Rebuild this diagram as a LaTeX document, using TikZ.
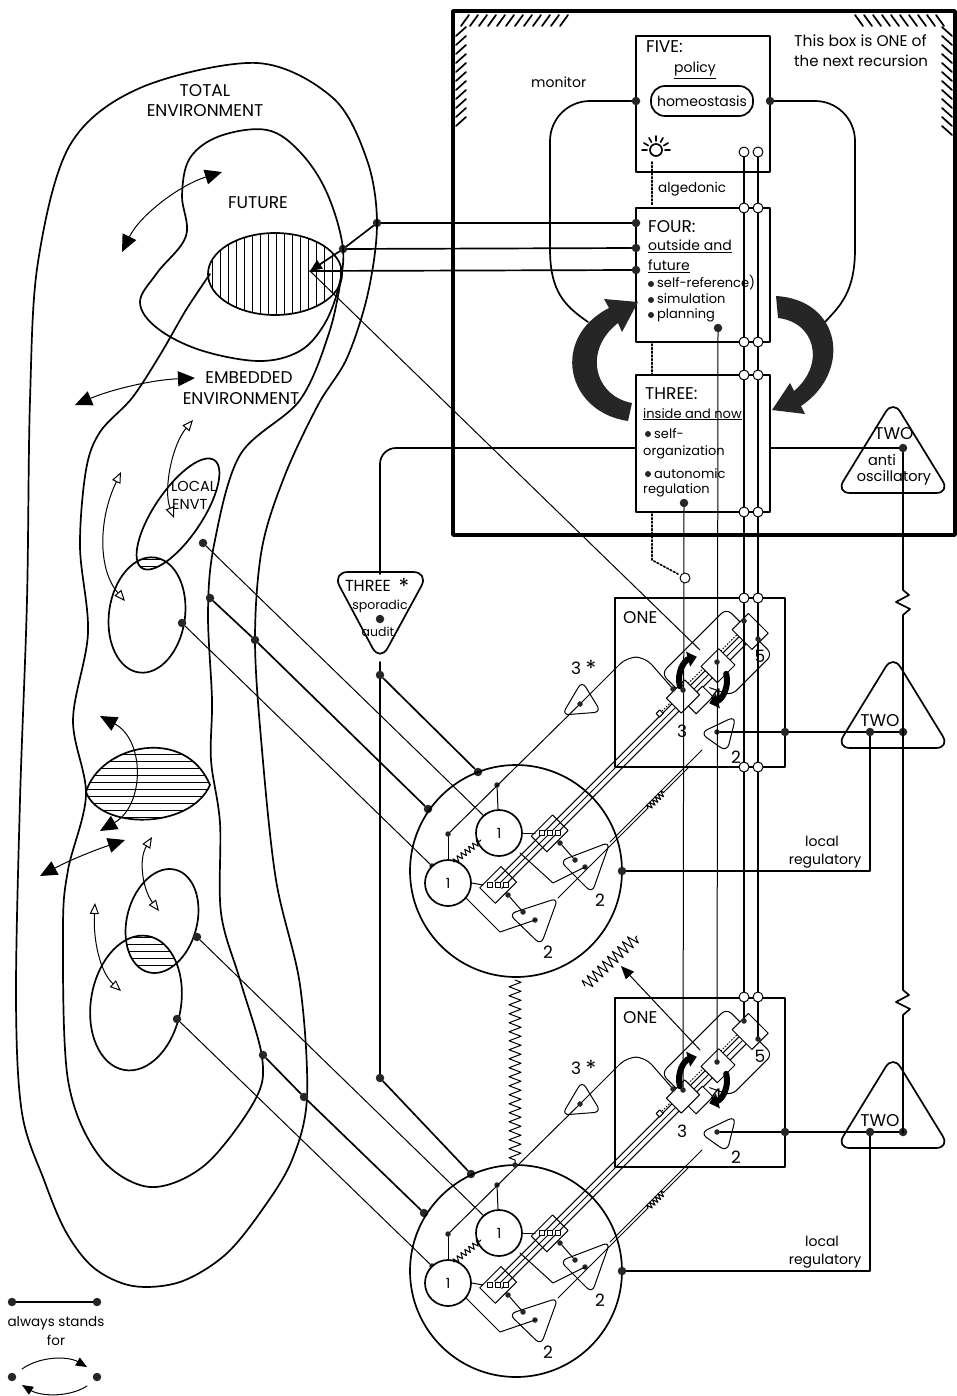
\documentclass[tikz,border=0pt]{standalone}
\usepackage{fontspec}
\setmainfont{Poppins}
\usetikzlibrary{arrows.meta,calc,decorations.pathmorphing}
\newcommand{\myfs}[1]{\fontsize{#1}{#1}\selectfont}
\begin{document}
\begin{tikzpicture}[x=1pt,y=-1pt,line join=round,line cap=round,
  ln/.style={line width=1.7pt},
  tn/.style={line width=1pt},
  ch/.style={line width=1.2pt},
  bx/.style={line width=2.6pt},
  dt/.style={circle,fill=black!85,inner sep=0pt,minimum size=8.5pt},
  sd/.style={circle,fill=black!85,inner sep=0pt,minimum size=5.5pt},
  bul/.style={circle,fill=black!85,inner sep=0pt,minimum size=6pt},
  od/.style={circle,draw,line width=1pt,fill=white,inner sep=0pt,minimum size=10pt},
  lb/.style={inner sep=0pt,font=\myfs{14}},
  cp/.style={inner sep=0pt,font=\myfs{17}},
  sm/.style={inner sep=0pt,font=\myfs{13}},
  btip/.style={{Triangle[length=17pt,width=15pt]}-{Triangle[length=17pt,width=15pt]}},
  otip/.style={{Triangle[open,length=11pt,width=9pt]}-{Triangle[open,length=11pt,width=9pt]}},
  crv/.style={line width=6pt,-{Triangle[length=9pt,width=15pt]}},
]
\useasboundingbox (0,0) rectangle (957,1396);
\fill[white] (0,0) rectangle (957,1396);

% ===== Metasystem box =====
\draw[line width=3.5pt] (453,11) rectangle (955,535);
\foreach \x in {461,470,...,561} \draw[ln] (\x,26) -- (\x+8,15);
\foreach \y in {36,45,...,126} \draw[ln] (456,\y) -- (466,\y-9);
\foreach \x in {855,864,...,936} \draw[ln] (\x,15) -- (\x+8,26);
\foreach \y in {27,36,...,127} \draw[ln] (942,\y) -- (952,\y+9);
\node[inner sep=0pt,font=\myfs{15.5},anchor=base west] (rec1) at (794,47) {This box is ONE of};
\node[inner sep=0pt,font=\myfs{15},anchor=base west] (rec2) at (794,67) {the next recursion};
\node[lb,anchor=base west] (mon) at (531,88) {monitor};

% FIVE
\node[draw,bx,minimum width=134pt,minimum height=136pt,inner sep=0pt] (five) at (703,104) {};
\node[cp,anchor=base west] at (646,53) {FIVE:};
\node[lb,anchor=base] at (695,73) {\underline{policy}};
\node[draw,ln,fill=white,rounded corners=14pt,minimum width=102pt,minimum height=30pt,inner sep=0pt,lb] (homeo) at (702,101) {homeostasis};
\node[dt] (h1) at (636,101) {};
\node[dt] (h2) at (770,101) {};
\draw[ln,rounded corners=40] (h1) -- (550,101) -- (550,250);
\draw[ln] (550,249) .. controls (550,292) and (565,306) .. (588,322);
\draw[ln,rounded corners=40] (h2) -- (855,101) -- (855,250);
\draw[ln] (855,249) .. controls (855,292) and (840,306) .. (825,322);
% lamp
\draw[ln] (656,150) circle[radius=6];
\foreach \a in {180,210,240,270,300,330,360} \draw[ln] ($(656,150)+(\a:9)$) -- ($(656,150)+(\a:14)$);
\draw[ln,dotted] (652,162) -- (652,206);
\node[inner sep=0pt,font=\myfs{13.5},anchor=base west] (alg) at (658,193) {algedonic};

% FOUR
\node[draw,bx,minimum width=134pt,minimum height=134pt,inner sep=0pt] (four) at (703,275) {};
\node[cp,anchor=base west] at (648,233) {FOUR:};
\node[lb,anchor=base west] at (648,251) {\underline{outside and}};
\node[lb,anchor=base west] at (648,271) {\underline{future}};
\node[bul] at (651,284) {};
\node[bul] at (651,300) {};
\node[bul] at (651,315) {};
\node[sm,anchor=base west] at (657,288) {self-reference)};
\node[sm,anchor=base west] at (657,304) {simulation};
\node[sm,anchor=base west] at (657,319) {planning};
\draw[ln,dotted] (652,344) -- (652,374);

% THREE
\node[draw,bx,minimum width=134pt,minimum height=137pt,inner sep=0pt] (three) at (703,443.5) {};
\node[cp,anchor=base west] at (645,399) {THREE:};
\node[sm,anchor=base west] at (643,418) {\underline{inside and now}};
\node[bul] at (648,434) {};
\node[bul] at (648,474) {};
\node[sm,anchor=base west] at (654,438) {self-};
\node[sm,anchor=base west] at (643,455) {organization};
\node[sm,anchor=base west] at (654,478) {autonomic};
\node[sm,anchor=base west] at (643,493) {regulation};
\draw[ln,dotted] (652,514) -- (652,560) -- (678,574);

% big curved arrows
\fill[black!85] (628,421) .. controls (566,412) and (550,338) .. (609,308) -- (604,299) -- (638,302) -- (622,332) -- (618,323) .. controls (583,350) and (594,396) .. (632,403) -- cycle;
\fill[black!85] (776,296) .. controls (842,300) and (852,372) .. (801,406) -- (805,414) -- (772,410) -- (790,383) -- (794,391) .. controls (826,364) and (815,322) .. (778,318) -- cycle;

% TWO anti-oscillatory
\draw[ln,rounded corners=14] (893,400) -- (950,493) -- (836,493) -- cycle;
\node[cp,anchor=base] at (894,439) {TWO};
\node[inner sep=0pt,font=\myfs{14.5},anchor=base] at (882,465) {anti};
\node[inner sep=0pt,font=\myfs{14.5},anchor=base] at (894,481) {oscillatory};
\node[dt] (tw0) at (903,448) {};
\draw[ln] (three.east |- tw0) -- (tw0);

% THREE* sporadic audit
\draw[ln,rounded corners=16] (three.west |- 0,448) -- (380,448) -- (380,574);
\draw[ln,rounded corners=16] (332,572) -- (429,572) -- (380,662) -- cycle;
\node[inner sep=0pt,font=\myfs{16},anchor=base] at (368,591) {THREE};
\node[inner sep=0pt,font=\myfs{22},anchor=base] at (404,594) {*};
\node[inner sep=0pt,font=\myfs{12.5},anchor=base] at (380,609) {sporadic};
\node[dt] (aud) at (380,619) {};
\node[inner sep=0pt,font=\myfs{12.5},anchor=base] at (378,636) {audit};
\node[dt] (s1) at (380,675) {};
\node[dt] (s2) at (380,1078) {};
\draw[ln] (380,662) -- (s1) -- (s2);

% FOUR links to environment
\node[dt] (f1) at (636,223) {};
\node[dt] (f2) at (636,248) {};
\node[dt] (f3) at (636,270) {};
\node[dt] (e1) at (377,223) {};
\node[dt] (e2) at (343,249) {};
\coordinate (e3) at (310,271);
\draw[ln] (f1) -- (e1);
\draw[ln] (f2) -- (e2);
\draw[ln] (f3) -- (e3);
\draw[ln,-{Triangle[length=12pt,width=10pt]}] (e1) -- (e2) -- (e3);
\draw[tn] (e3) -- (700,650);

% ===== Environment =====
\draw[ln] plot[smooth cycle,tension=0.55] coordinates {(257,63) (333,98) (367,160) (377,223) (368,293) (347,358) (318,405) (285,475) (262,548) (255,640) (262,750) (276,880) (300,985) (307,1097) (292,1160) (262,1210) (225,1255) (180,1282) (133,1286) (94,1268) (66,1232) (44,1180) (22,1113) (16,1000) (20,800) (27,600) (30,400) (38,262) (70,145) (140,88)};
\draw[ln] plot[smooth,tension=0.55] coordinates {(210,274) (186,310) (160,355) (132,398) (100,432) (86,470) (80,547) (88,633) (73,720) (86,795) (68,870) (63,930) (68,1080) (100,1157) (150,1187) (205,1165) (255,1100) (262,1057) (240,980) (221,913) (220,823) (211,760) (212,700) (208,613) (214,545) (240,455) (300,400) (330,330) (342,272)};
\draw[ln] plot[smooth cycle,tension=0.6] coordinates {(267,130) (300,152) (327,193) (343,249) (337,293) (322,328) (298,352) (258,361) (200,350) (157,328) (140,302) (157,273) (186,236) (182,195) (190,158) (220,136)};
\begin{scope}
\clip (275,274) ellipse [x radius=67,y radius=41];
\foreach \x in {212,220,...,340} \draw[tn] (\x,230) -- (\x,318);
\end{scope}
\draw[ln] (275,274) ellipse [x radius=67,y radius=41];
% lens
\begin{scope}
\clip (86,792) .. controls (100,745) and (185,725) .. (210,785) .. controls (190,830) and (100,830) .. (86,792);
\foreach \y in {740,747,...,822} \draw[tn] (80,\y) -- (215,\y);
\end{scope}
\draw[ln] (86,792) .. controls (100,745) and (185,725) .. (210,785);
\draw[ln] (86,792) .. controls (100,830) and (190,830) .. (210,785);
% local ellipses
\begin{scope}
\clip[rotate around={56:(178,514)}] (178,514) ellipse [x radius=65,y radius=24];
\clip[rotate around={-8:(147,615)}] (147,615) ellipse [x radius=38,y radius=58];
\foreach \y in {545,552,...,585} \draw[tn] (130,\y) -- (190,\y);
\end{scope}
\draw[ln,rotate around={56:(178,514)}] (178,514) ellipse [x radius=65,y radius=24];
\draw[ln,rotate around={-8:(147,615)}] (147,615) ellipse [x radius=38,y radius=58];
\begin{scope}
\clip[rotate around={-15:(162,921)}] (162,921) ellipse [x radius=35,y radius=53];
\clip[rotate around={-10:(136,1003)}] (136,1003) ellipse [x radius=45,y radius=68];
\foreach \y in {930,937,...,975} \draw[tn] (120,\y) -- (190,\y);
\end{scope}
\draw[ln,rotate around={-15:(162,921)}] (162,921) ellipse [x radius=35,y radius=53];
\draw[ln,rotate around={-10:(136,1003)}] (136,1003) ellipse [x radius=45,y radius=68];
% labels
\node[cp,anchor=base] at (205,97) {TOTAL};
\node[cp,anchor=base] at (205,117) {ENVIRONMENT};
\node[cp,anchor=base] at (258,209) {FUTURE};
\node[cp,anchor=base] at (249,383) {EMBEDDED};
\node[cp,anchor=base] at (241,404) {ENVIRONMENT};
\node[inner sep=0pt,font=\myfs{14.5},anchor=base west] at (171,491) {LOCAL};
\node[inner sep=0pt,font=\myfs{14.5},anchor=base west] at (172,509) {ENVT};
% arrows
\draw[tn,btip] (122,252) .. controls (140,215) and (180,185) .. (222,172);
\draw[tn,btip] (75,405) .. controls (110,390) and (150,380) .. (195,378);
\draw[tn,btip] (40,876) .. controls (70,860) and (95,850) .. (125,840);
\draw[tn,btip] (100,716) .. controls (145,740) and (145,805) .. (100,831);
\draw[tn,otip] (193,420) .. controls (172,445) and (163,490) .. (174,518);
\draw[tn,otip] (121,472) .. controls (98,520) and (98,570) .. (125,601);
\draw[tn,otip] (152,837) .. controls (138,860) and (143,890) .. (159,911);
\draw[tn,otip] (95,903) .. controls (93,940) and (100,972) .. (121,991);

% env dots and links to operations
\node[dt] (l1) at (203,543) {};
\node[dt] (l2) at (182,623) {};
\node[dt] (m1) at (210,598) {};
\node[dt] (t1) at (255,640) {};
\node[dt] (l3) at (197,937) {};
\node[dt] (l4) at (177,1019) {};
\node[dt] (m2) at (263,1055) {};
\node[dt] (t2) at (304,1097) {};
\node[dt] (ga1) at (478,772) {};
\node[dt] (gb1) at (428,809) {};
\node[dt] (ga2) at (471,1174) {};
\node[dt] (gb2) at (424,1213) {};
\node[sd] (ia1) at (485,817) {};
\node[sd] (ib1) at (432,866) {};
\node[sd] (ia2) at (485,1217) {};
\node[sd] (ib2) at (432,1266) {};
\draw[tn] (l1) -- (ia1);
\draw[tn] (l2) -- (ib1);
\draw[ln] (m1) -- (t1) -- (gb1);
\draw[ln] (s1) -- (ga1);
\draw[tn] (l3) -- (ia2);
\draw[tn] (l4) -- (ib2);
\draw[ln] (m2) -- (t2) -- (gb2);
\draw[ln] (s2) -- (ga2);

% ===== Operational units =====
\foreach \dy/\nm in {0/a,400/b}{
\begin{scope}[shift={(0,\dy)}]
  \node[draw,bx,minimum width=170pt,minimum height=169pt,inner sep=0pt] (one\nm) at (700,682.5) {};
  \node[cp,anchor=base west] at (623,623) {ONE};
  \node[draw,ln,circle,minimum size=212pt,inner sep=0pt] (op\nm) at (516,871) {};
  \begin{scope}[shift={(718,665)},rotate=45]
    \foreach \v in {-5,0,5} \draw[tn] (-311,\v) -- (46,\v);
    \draw[tn] (-253,-11) rectangle (-223,11);
    \draw[tn] (-326,-11) rectangle (-296,11);
    \draw[tn,rounded corners=7] (-46,-12) -- (-46,-34) -- (46,-34) -- (46,31) -- (-12,31) -- (-22,10);
    \draw[tn,fill=white] (-50,4) rectangle (-26,19);
    \draw[tn,fill=white] (-60,-13) rectangle (-34,8);
    \draw[tn,fill=white] (-13,-11) rectangle (12,12);
    \draw[tn,fill=white] (35,-15) rectangle (58,13);
    \draw[tn,dotted] (-34,-8) -- (-13,-8);
    \draw[tn,dotted] (12,-8) -- (35,-8);
    \draw[tn,dotted] (-72,-7) -- (-60,-7);
    \draw[tn,fill=white] (-78,-9.5) rectangle (-73,-4.5);
  \end{scope}
  \foreach \s in {-8,0,8} {
    \draw[tn,fill=white] (547.5+\s,830.5) rectangle +(5,5);
    \draw[tn,fill=white] (495.5+\s,882.5) rectangle +(5,5);
  }
  \node[draw,ln,circle,fill=white,minimum size=46pt,inner sep=0pt,lb] (cA\nm) at (499,833) {1};
  \node[draw,ln,circle,fill=white,minimum size=46pt,inner sep=0pt,lb] (cB\nm) at (448,883) {1};
  \draw[tn] (cA\nm.east) -- (535,833);
  \draw[tn] (cB\nm.east) -- (483,885);
  \draw[tn,decorate,decoration={zigzag,segment length=5pt,amplitude=3pt}] (454,862) -- (481,840);
  % 3* path
  \node[sd] (pa\nm) at (497,785) {};
  \node[sd] (pb\nm) at (448,834) {};
  \draw[tn] (pa\nm) -- (cA\nm);
  \draw[tn] (pb\nm) -- (cB\nm);
  \draw[tn,rounded corners=10] (pb\nm) -- (580,704) -- (627,657) -- (645,657) -- (673,689);
  \node[sd] at (673,689) {};
  \draw[tn,rounded corners=7] (582,681) -- (601,712) -- (562,715) -- cycle;
  \node[sd] at (580,704) {};
  \node[cp,anchor=base] at (576,674) {3};
  \node[inner sep=0pt,font=\myfs{22},anchor=base] at (591,676) {*};
  % triangles 2
  \node[sd] (da\nm) at (560,843) {};
  \node[sd] (db\nm) at (508,895) {};
  \draw[tn,rounded corners=7] (560,861) -- (610,842) -- (592,893) -- cycle;
  \draw[tn,rounded corners=7] (509,914) -- (558,898) -- (541,945) -- cycle;
  \node[sd] (ta\nm) at (575,860) {};
  \node[sd] (tb\nm) at (523,912) {};
  \node[sd] at (585,867) {};
  \node[sd] at (535,920) {};
  \draw[tn] (da\nm) -- (ta\nm);
  \draw[tn] (db\nm) -- (tb\nm);
  \draw[tn] (520,853) -- (553,883) -- (585,867);
  \draw[tn] (466,898) -- (500,932) -- (535,920);
  \draw[tn] (610,842) -- (702,750);
  \draw[tn] (558,898) -- (648,808);
  \draw[tn,decorate,decoration={zigzag,segment length=4pt,amplitude=3pt}] (648,808) -- (664,792);
  \draw[tn] (664,792) -- (690,766);
  \node[cp,anchor=base] at (600,906) {2};
  \node[cp,anchor=base] at (548,958) {2};
  % ONE internals
  \draw[tn,rounded corners=8] (700,733) -- (736,716) -- (727,752) -- cycle;
  \node[sd] (two\nm) at (717,732) {};
  \node[cp,anchor=base] at (736,763) {2};
  \node[cp,anchor=base] at (682,737) {3};
  \node[inner sep=0pt,font=\myfs{19},anchor=base] at (716,702) {4};
  \node[cp,anchor=base] at (760,662) {5};
  \draw[crv] ($(703,680)+(165:24)$) arc[start angle=165,end angle=255,radius=24];
  \draw[crv] ($(703,680)+(-15:24)$) arc[start angle=-15,end angle=75,radius=24];
  % right links
  \node[dt] (r1\nm) at (785,732) {};
  \node[dt] (r2\nm) at (870,732) {};
  \node[dt] (r3\nm) at (903,732) {};
  \draw[ln] (two\nm) -- (r1\nm) -- (r2\nm) -- (r3\nm);
  \draw[ln,rounded corners=14] (893,655) -- (950,748) -- (836,748) -- cycle;
  \node[cp,anchor=base] at (880,726) {TWO};
  \node[dt] (lr\nm) at (622,871) {};
  \draw[ln] (r2\nm) -- (870,871) -- (lr\nm);
  \node[lb,anchor=base] at (822,846) {local};
  \node[lb,anchor=base] at (825,864) {regulatory};
\end{scope}
}
% resistors and couplings
\draw[tn,decorate,decoration={zigzag,segment length=9pt,amplitude=6pt}] (515,980) -- (515,1163);
\node[sd] (zt) at (515,1165) {};
\draw[tn,decorate,decoration={zigzag,segment length=7pt,amplitude=6pt}] (585,986) -- (637,936);
\draw[tn,-{Triangle[length=13pt,width=11pt]}] (700,1050) -- (621,966);
\draw[ln] (tw0) -- (903,590) -- (909,595) -- (896,602) -- (910,609) -- (903,615) -- (903,990) -- (909,995) -- (896,1002) -- (910,1009) -- (903,1015) -- (903,1133);

% command channels
\draw[ch] (744,152) -- (744,1021);
\draw[ch] (758,152) -- (758,1039);
\node[dt] (d4) at (718,328) {};
\node[dt] (d3) at (684,503) {};
\draw[tn] (d4) -- (717,1062);
\draw[tn] (d3) -- (683,1090);
\foreach \dy in {0,400} {
  \node[sd] at (683,690+\dy) {};
  \node[sd] at (717,662+\dy) {};
  \node[sd] at (744,621+\dy) {};
  \node[sd] at (758,639+\dy) {};
}
\foreach \y in {152,208,342,375,512,598,767,997} {
  \node[od] at (744,\y) {};
  \node[od] at (758,\y) {};
}
\node[od] (alo) at (685,578) {};

% legend
\node[dt] (k1) at (12,1302) {};
\node[dt] (k2) at (97,1302) {};
\draw[ln] (k1) -- (k2);
\node[inner sep=0pt,font=\myfs{13.5},anchor=base] at (56,1326) {always stands};
\node[inner sep=0pt,font=\myfs{13.5},anchor=base] at (56,1345) {for};
\node[dt] (k3) at (12,1377) {};
\node[dt] (k4) at (97,1377) {};
\draw[tn,-{Triangle[length=11pt,width=9pt]}] (22,1369) .. controls (40,1356) and (68,1356) .. (87,1367);
\draw[tn,-{Triangle[length=11pt,width=9pt]}] (87,1386) .. controls (68,1398) and (40,1396) .. (22,1385);
\end{tikzpicture}
\end{document}
